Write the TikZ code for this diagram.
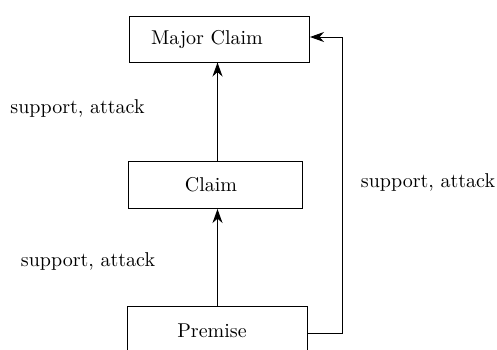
\documentclass[tikz,border=0pt]{standalone}
\usetikzlibrary{arrows.meta}
\begin{document}
\begin{tikzpicture}[x=0.5pt,y=-0.5pt,
  box/.style={draw, line width=0.5pt, inner sep=0pt},
  txt/.style={font=\normalsize, inner sep=0pt},
  link/.style={line width=0.5pt, -{Stealth[length=7pt,width=5pt,inset=2.2pt]}},
  lbl/.style={font=\normalsize, inner sep=0pt}]
  \useasboundingbox (0,0) rectangle (497,349);
  % argument components (frames and their captions)
  \node[box, minimum width=90pt, minimum height=23pt] (mc) at (219.5,39) {};
  \node[txt] (mct) at (207,39) {Major Claim};
  \node[box, minimum width=87pt, minimum height=23.5pt] (c) at (215,185) {};
  \node[txt] (ct) at (211,185) {Claim};
  \node[box, minimum width=90pt, minimum height=25pt] (p) at (217,331) {};
  \node[txt] (pt) at (212,331) {Premise};
  % relations
  \coordinate (axis) at (217.5,0);
  \draw[link] (axis |- c.north) -- (axis |- mc.south);
  \draw[link] (axis |- p.north) -- (axis |- c.south);
  \coordinate (turn) at (342,333);
  \draw[link] (p.east |- turn) -- (turn) -- (turn |- 0,37) -- (mc.east |- 0,37);
  % relation labels
  \node[lbl] (l1) at (77.5,108) {support, attack};
  \node[lbl] (l2) at (88,261) {support, attack};
  \node[lbl] (l3) at (428,182) {support, attack};
\end{tikzpicture}
\end{document}
